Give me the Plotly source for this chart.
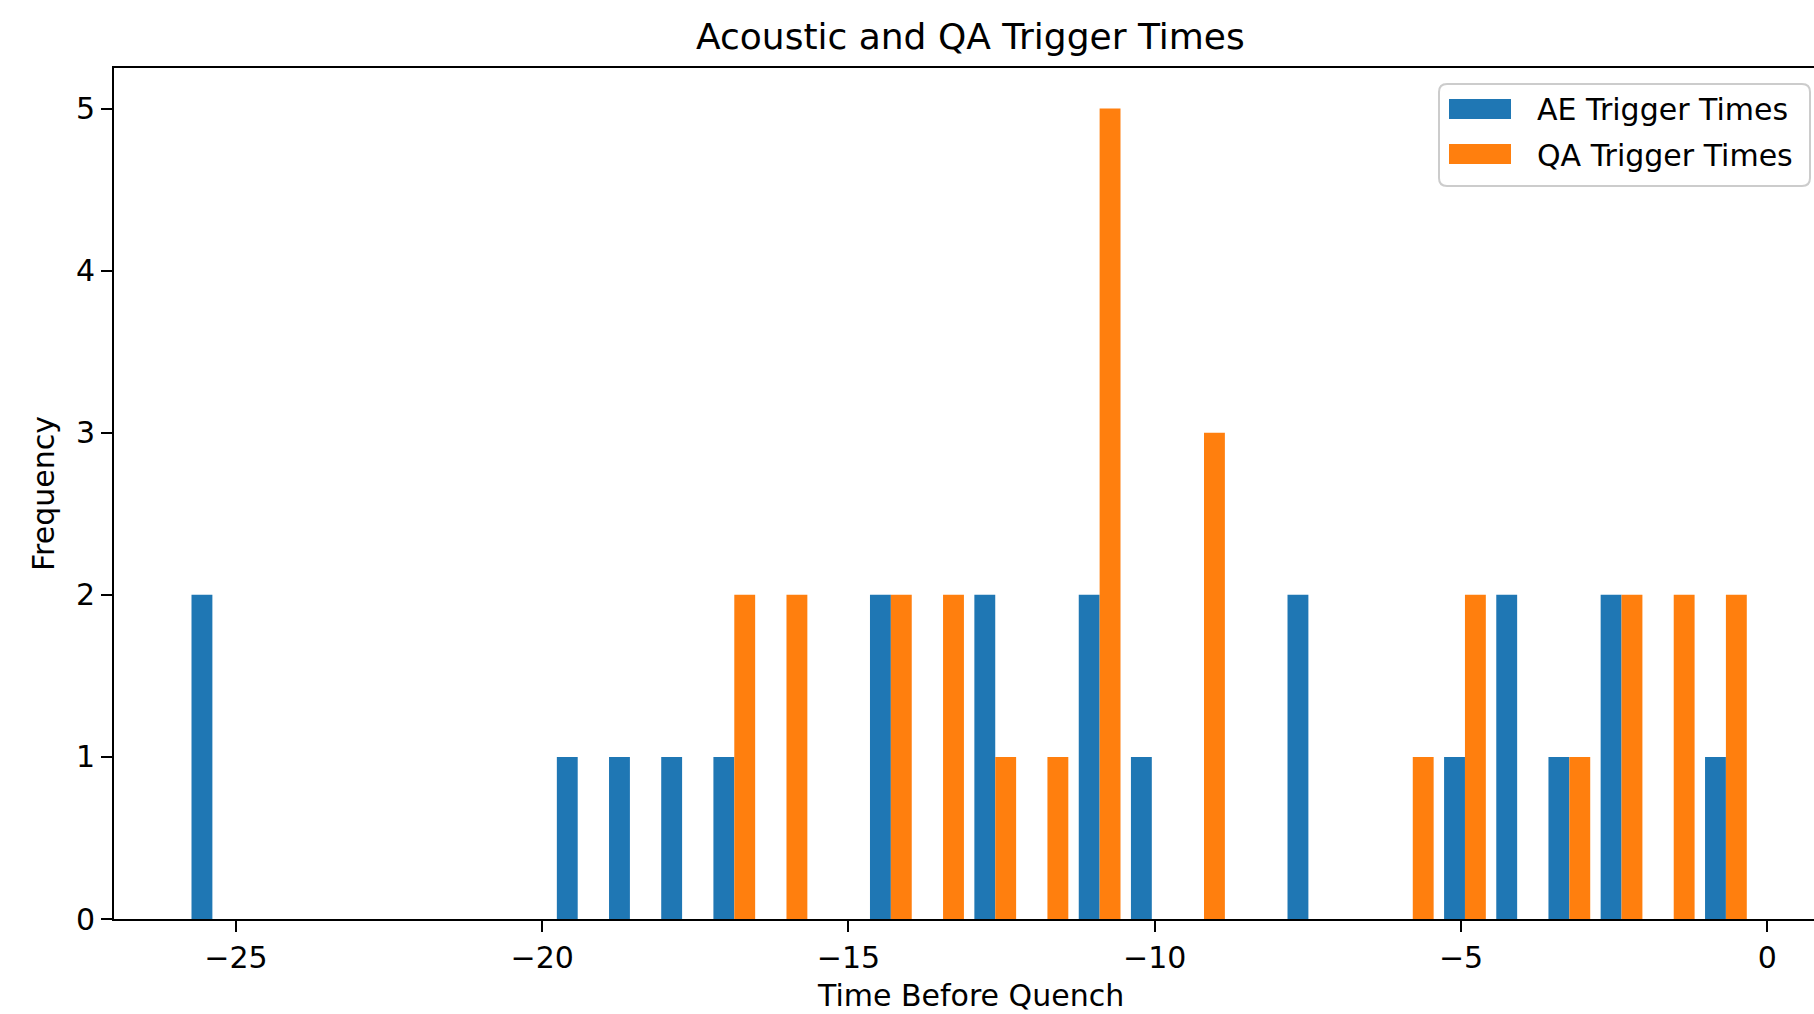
import numpy as np
import plotly.graph_objects as go

# Histogram bins shared by both series (30 equal-width bins)
bin_start = -25.81
bin_width = 0.852
n_bins = 30

# Counts per bin
ae_counts = [2, 0, 0, 0, 0, 0, 0, 1, 1, 1,
             1, 0, 0, 2, 0, 2, 0, 2, 1, 0,
             0, 2, 0, 0, 1, 2, 1, 2, 0, 1]
qa_counts = [0, 0, 0, 0, 0, 0, 0, 0, 0, 0,
             2, 2, 0, 2, 2, 1, 1, 5, 0, 3,
             0, 0, 0, 1, 2, 0, 1, 2, 2, 2]

series_names = ["AE Trigger Times", "QA Trigger Times"]
series_colors = ["#1f77b4", "#ff7f0e"]

x_tick_vals = [-25, -20, -15, -10, -5, 0]
y_tick_vals = [0, 1, 2, 3, 4, 5]

bin_centers = bin_start + bin_width * (np.arange(n_bins) + 0.5)

W, H = 1814, 1014
L, R, T, B = 114, 0, 68, 95
PW, PH = W - L - R, H - T - B

FONT = "DejaVu Sans"


def px_x(p):
    return (p - L) / PW


def px_y(p):
    return (H - B - p) / PH


fig = go.Figure()
for name, counts, color in zip(series_names, [ae_counts, qa_counts], series_colors):
    fig.add_trace(go.Bar(
        x=bin_centers, y=counts, name=name,
        marker=dict(color=color, line=dict(width=0)),
        showlegend=False,
    ))


def fmt(v):
    return str(v).replace("-", "\u2212")


fig.update_layout(
    width=W, height=H,
    margin=dict(l=L, r=R, t=T, b=B, pad=0),
    paper_bgcolor="white", plot_bgcolor="white",
    barmode="group", bargap=0.2, bargroupgap=0,
    font=dict(family=FONT, size=30, color="black"),
    xaxis=dict(
        range=[-26.99, 0.762], showgrid=False, zeroline=False,
        showline=True, linecolor="black", linewidth=2, mirror=True,
        ticks="outside", ticklen=11, tickwidth=2, tickcolor="black",
        tickvals=x_tick_vals, ticktext=[fmt(v) for v in x_tick_vals],
        tickfont=dict(size=30),
    ),
    yaxis=dict(
        range=[0, 5.25], showgrid=False, zeroline=False,
        showline=True, linecolor="black", linewidth=2,
        ticks="outside", ticklen=11, tickwidth=2, tickcolor="black",
        tickvals=y_tick_vals, ticktext=[fmt(v) for v in y_tick_vals],
        tickfont=dict(size=30),
    ),
)

# Title and axis labels, centred on the full axes box
fig.add_annotation(text="Acoustic and QA Trigger Times", x=px_x(970), y=px_y(37),
                   xref="paper", yref="paper", showarrow=False,
                   font=dict(size=36), xanchor="center", yanchor="middle")
fig.add_annotation(text="Time Before Quench", x=px_x(970), y=px_y(996),
                   xref="paper", yref="paper", showarrow=False,
                   font=dict(size=30), xanchor="center", yanchor="middle")
fig.add_annotation(text="Frequency", x=px_x(43), y=px_y(494),
                   xref="paper", yref="paper", showarrow=False, textangle=-90,
                   font=dict(size=30), xanchor="center", yanchor="middle")

# Legend box with rounded corners
x0, x1, y0, y1, r = px_x(1439), px_x(1810), px_y(84), px_y(186), 8
rx, ry = r / PW, r / PH
path = (f"M {x0+rx},{y0} L {x1-rx},{y0} Q {x1},{y0} {x1},{y0-ry} "
        f"L {x1},{y1+ry} Q {x1},{y1} {x1-rx},{y1} L {x0+rx},{y1} "
        f"Q {x0},{y1} {x0},{y1+ry} L {x0},{y0-ry} Q {x0},{y0} {x0+rx},{y0} Z")
fig.add_shape(type="path", path=path, xref="paper", yref="paper",
              fillcolor="rgba(255,255,255,0.8)", line=dict(color="#cccccc", width=2))

for i, (name, color) in enumerate(zip(series_names, series_colors)):
    cy = 109 + 45 * i
    fig.add_shape(type="rect", xref="paper", yref="paper",
                  x0=px_x(1449), x1=px_x(1511), y0=px_y(cy - 10), y1=px_y(cy + 10),
                  fillcolor=color, line=dict(width=0))
    fig.add_annotation(text=name, x=px_x(1535), y=px_y(cy + 1),
                       xref="paper", yref="paper", showarrow=False,
                       font=dict(size=30), xanchor="left", yanchor="middle")

fig.write_html("out.html")
